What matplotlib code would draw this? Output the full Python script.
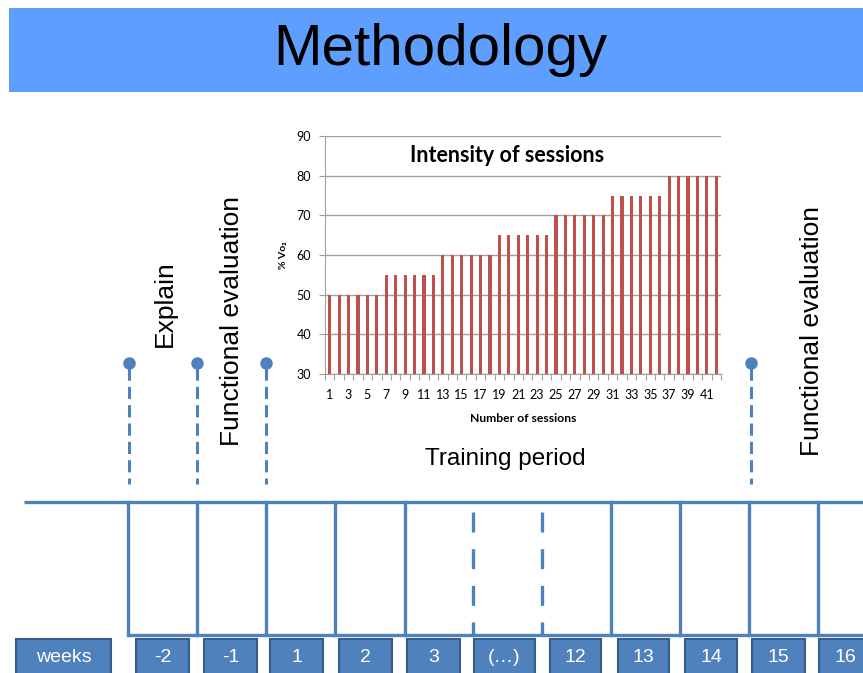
import numpy as np
import matplotlib.pyplot as plt
from matplotlib.patches import Rectangle

# inset chart data
sessions = np.arange(1, 43)
intensity = [50] * 6 + [55] * 6 + [60] * 6 + [65] * 6 + [70] * 6 + [75] * 6 + [80] * 6
yticks = [30, 40, 50, 60, 70, 80, 90]

# timeline labels
week_labels = ['weeks', '-2', '-1', '1', '2', '3', '(…)', '12', '13', '14', '15', '16']
phase_labels = ['Explain', 'Functional evaluation', 'Functional evaluation']
period_label = 'Training period'

# layout (pixels)
W, H = 863, 673
box_left = [16, 136, 204, 270, 339, 407, 474, 550, 618, 685, 752, 819]
box_right = [111, 189, 257, 323, 392, 460, 535, 601, 669, 737, 805, 872]
solid_x = [128, 197, 266, 335, 405, 611, 680, 749, 818]
dashed_x = [473, 542]
marker_x = [129, 197, 266, 751]

blue = '#4F81BD'
dark = '#385D8A'
red = '#C0504D'
grid = '#a0a0a0'
font = ['Liberation Sans', 'DejaVu Sans']
cfont = ['Lato', 'DejaVu Sans']
plt.rcParams['font.family'] = font

fig = plt.figure(figsize=(W / 100, H / 100), dpi=100)
ax = fig.add_axes([0, 0, 1, 1])
ax.set_xlim(0, W)
ax.set_ylim(H, 0)
ax.axis('off')

# title banner
ax.add_patch(Rectangle((9, 8), W, 84, color='#5E9EFF', lw=0))
ax.text(440, 50, 'Methodology', fontsize=42, ha='center', va='center')

# timeline frame
ax.plot([24, W], [502, 502], color=blue, lw=2.4, solid_capstyle='butt')
ax.plot([128, W], [635, 635], color=blue, lw=2.4, solid_capstyle='butt')
for x in solid_x:
    ax.plot([x, x], [502, 635], color=blue, lw=2.4)
for x in dashed_x:
    ax.plot([x, x], [512, 635], color=blue, lw=2.4, dashes=(6, 5))

# event markers
for x in marker_x:
    ax.plot([x, x], [368, 484], color=blue, lw=2.2, dashes=(4, 2))
    ax.plot(x, 363, 'o', color=blue, ms=8)

# phase texts
ax.text(165, 347, phase_labels[0], rotation=90, fontsize=19, ha='center', va='bottom')
ax.text(232, 321, phase_labels[1], rotation=90, fontsize=19, ha='center', va='center')
ax.text(812, 331, phase_labels[2], rotation=90, fontsize=19, ha='center', va='center')
ax.text(505, 459, period_label, fontsize=17.5, ha='center', va='center')

# week boxes
for lab, l, r in zip(week_labels, box_left, box_right):
    ax.add_patch(Rectangle((l, 639), r - l, 45, facecolor=blue, edgecolor=dark, lw=1.5))
    ax.text((l + r) / 2, 657, lab, color='white', fontsize=14, ha='center', va='center')

# inset bar chart
ia = fig.add_axes([325 / W, (H - 374) / H, 396 / W, 238 / H])
ia.bar(sessions, intensity, width=0.32, color=red, zorder=3)
ia.set_xlim(0.5, 42.5)
ia.set_ylim(30, 90)
ia.set_yticks(yticks)
ia.grid(axis='y', color=grid, lw=1, zorder=0)
ia.set_xticks(np.arange(0.5, 43, 1))
ia.set_xticklabels([])
ia.set_xticks(sessions[::2], [str(s) for s in sessions[::2]], minor=True)
ia.tick_params(axis='x', which='major', length=4, color=grid)
ia.tick_params(axis='x', which='minor', length=0, labelsize=9, pad=11)
ia.tick_params(axis='y', length=4, color=grid, labelsize=9, pad=6)
for lab in ia.get_xticklabels(minor=True) + ia.get_yticklabels():
    lab.set_family(cfont)
for s in ['top', 'right']:
    ia.spines[s].set_visible(False)
for s in ['left', 'bottom']:
    ia.spines[s].set_color(grid)
ia.set_facecolor('none')
ia.text(0.46, 0.92, 'Intensity of sessions', transform=ia.transAxes,
        fontsize=15.5, fontweight='bold', family=cfont, ha='center', va='center')

ax.text(523, 418, 'Number of sessions', fontsize=8.7, fontweight='bold', family=cfont,
        ha='center', va='center')
ax.text(283, 255, '% Vo₂', fontsize=7.5, fontweight='bold', family=cfont, rotation=90,
        ha='center', va='center')

fig.savefig('out.png', dpi=100)
